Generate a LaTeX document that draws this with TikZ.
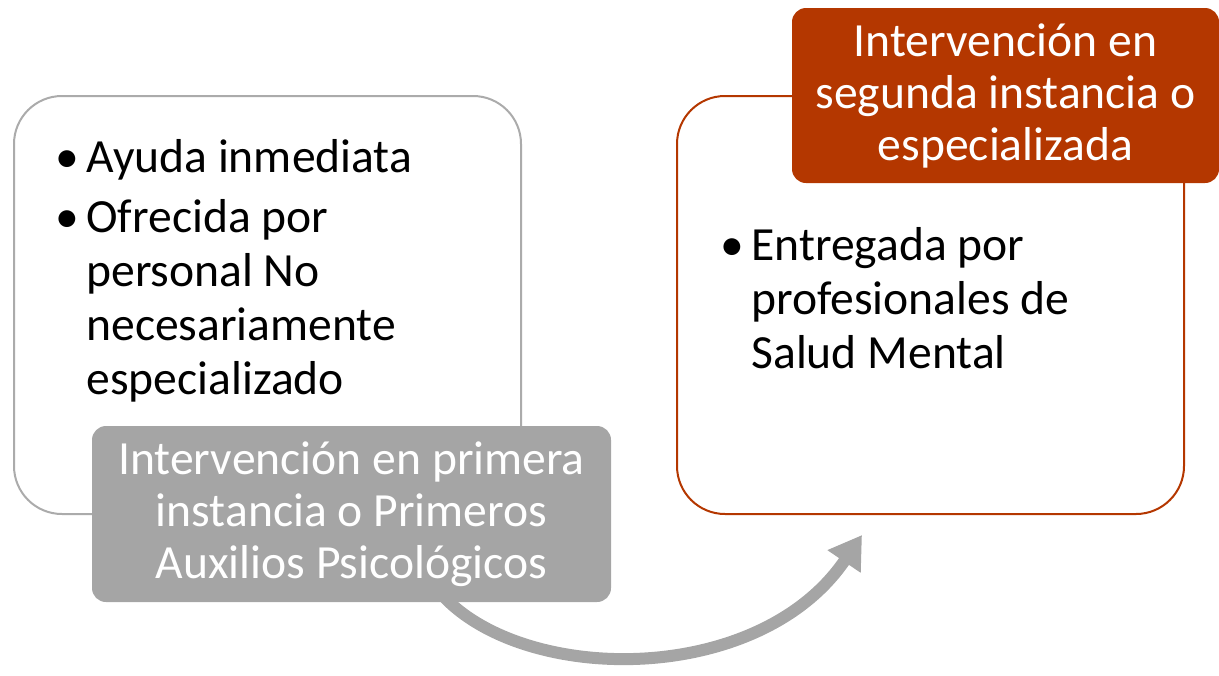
\documentclass[tikz,border=0pt]{standalone}
\usepackage{fontspec}
\setmainfont{Carlito}
\usetikzlibrary{arrows.meta}
\definecolor{boxgray}{HTML}{A5A5A5}
\definecolor{linegray}{HTML}{ABABAB}
\definecolor{rust}{HTML}{B43700}

\begin{document}
\begin{tikzpicture}[x=0.5pt,y=-0.5pt,
  bigbox/.style={draw,line width=1pt,rounded corners=24pt,minimum width=253.5pt,minimum height=209pt,inner sep=0pt},
  head/.style={rounded corners=7pt,text=white,align=center,inner sep=0pt,font=\fontsize{23.8}{26}\selectfont},
  bullets/.style={anchor=base west,inner sep=0pt,font=\fontsize{23.8}{27}\selectfont}]
\useasboundingbox (0,0) rectangle (1219,675);

\coordinate (arrowstart) at (445,598);
\coordinate (arrowend) at (862,535);
\draw[boxgray,line width=6pt,-{Triangle[length=16pt,width=19pt]}]
  (arrowstart) .. controls (530,685) and (760,685) .. (arrowend);

\node[bigbox,draw=linegray] (firstbox) at (267.5,305) {};
\node[bigbox,draw=rust] (secondbox) at (930.5,305) {};

\node[bullets] (firstlist) at (55,172) {\begin{tabular}[t]{@{}p{15.5pt}@{}l@{}}
  • & Ayuda inmediata\\[3pt]
  • & Ofrecida por\\
    & personal No\\
    & necesariamente\\
    & especializado
\end{tabular}};
\node[bullets] (secondlist) at (720,260) {\begin{tabular}[t]{@{}p{15.5pt}@{}l@{}}
  • & Entregada por\\
    & profesionales de\\
    & Salud Mental
\end{tabular}};

\node[head,fill=boxgray,minimum width=259.5pt,minimum height=88pt] (firsthead) at (351.5,514)
  {Intervención en primera\\instancia o Primeros\\Auxilios Psicológicos};
\node[head,fill=rust,minimum width=213.5pt,minimum height=87.5pt] (secondhead) at (1005.5,95.5)
  {Intervención en\\segunda instancia o\\especializada};
\end{tikzpicture}
\end{document}
